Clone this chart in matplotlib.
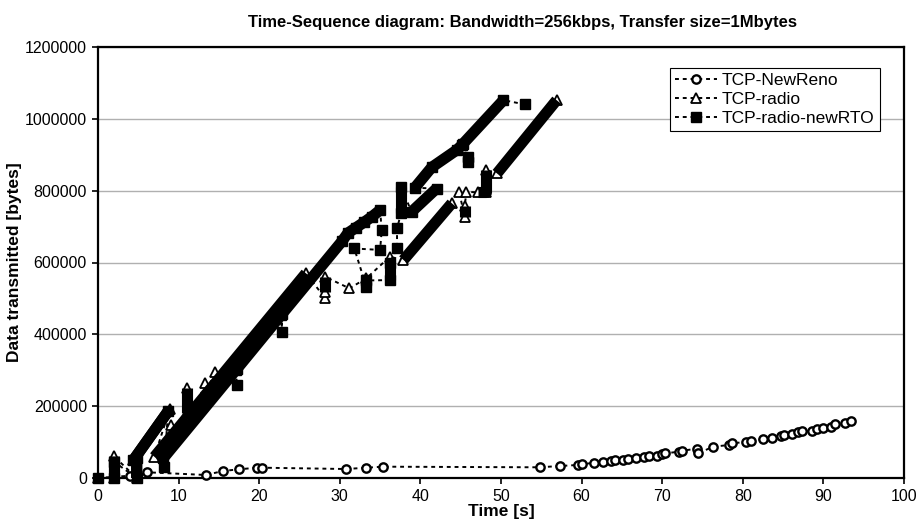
import matplotlib
matplotlib.use("Agg")
import matplotlib.pyplot as plt

plt.rcParams['font.family'] = ['Liberation Sans', 'DejaVu Sans']

#%% Data (time in s, bytes)
newreno_t = [0, 4.0, 6.1, 13.4, 15.5, 17.5, 19.7, 20.3, 30.8, 33.3, 35.4, 54.8, 57.3, 59.5,
             60.0, 61.6, 62.6, 63.6, 64.2, 65.1, 65.8, 66.8, 67.7, 68.4, 69.3, 70.0, 70.4,
             72.1, 72.5, 74.3, 74.5, 76.3, 78.3, 78.6, 80.4, 81.0, 82.5, 83.6, 84.8, 85.1,
             86.1, 86.8, 87.4, 88.6, 89.2, 90.0, 91.0, 91.4, 92.7, 93.4]
newreno_b = [0, 6400, 15900, 8400, 19500, 24200, 28700, 28700, 25000, 28700, 31500, 29800,
             33400, 36200, 38100, 42600, 45400, 47300, 49300, 50100, 52900, 55700, 58500,
             61300, 62100, 66000, 68800, 73200, 76000, 81600, 68800, 87100, 91900, 96600,
             100200, 103800, 107700, 112200, 116900, 119700, 122500, 127200, 130000, 130800,
             137300, 138400, 142800, 150300, 152300, 157800]

radio_t = [0, 2.0, 2.0, 4.8, 4.8, 4.4, 8.9, 7.0, 9.1, 9.1, 9.0, 10.95, 11.0, 11.0, 10.9,
           13.3, 13.3, 13.2, 14.5, 14.5, 14.4, 25.8, 28.2, 28.2, 28.2, 31.2, 33.3, 36.2,
           37.9, 43.9, 44.8, 45.5, 45.5, 45.7, 47.2, 48.2, 48.2, 49.5, 56.9]
radio_b = [0, 0, 60000, 0, 55000, 50000, 192000, 59000, 116000, 147000, 113000, 166000,
           180000, 250000, 165000, 230000, 264000, 228000, 263000, 296000, 260000, 570000,
           500000, 519000, 560000, 528000, 556000, 616000, 607000, 765000, 797000, 727000,
           757000, 797000, 795000, 795000, 857000, 848000, 1052000]
# index ranges where packets are so dense they merge into a solid band
radio_runs = [(1, 2), (3, 6), (7, 8), (10, 11), (12, 13), (14, 15), (17, 18), (20, 21),
              (23, 24), (28, 29), (31, 32), (34, 36), (37, 38)]

rto_t = [0, 2.0, 2.0, 4.8, 4.8, 4.4, 8.7, 8.2, 8.1, 17.2, 17.2, 17.1, 22.8, 22.8, 22.7,
         30.3, 31.0, 32.0, 33.0, 34.0, 35.0, 35.2, 35.0, 31.8, 33.3, 33.3, 36.2, 36.2,
         37.1, 37.1, 37.6, 37.6, 38.9, 42.0, 39.3, 41.4, 44.5, 45.3, 45.9, 45.9, 45.1,
         50.3, 53.0]
rto_b = [0, 0, 45000, 0, 55000, 50000, 186000, 30000, 55000, 303000, 259000, 300000,
         456000, 407000, 453000, 660000, 682000, 697000, 712000, 728000, 746000, 690000,
         635000, 639000, 532000, 550000, 551000, 600000, 639000, 695000, 737000, 811000,
         741000, 806000, 808000, 865000, 913000, 930000, 880000, 895000, 926000, 1052000,
         1040000]
rto_runs = [(1, 2), (3, 6), (8, 9), (11, 12), (14, 20), (24, 25), (26, 27), (30, 31),
            (32, 33), (34, 37), (38, 39), (40, 41)]

x_ticks = [0, 10, 20, 30, 40, 50, 60, 70, 80, 90, 100]
y_ticks = [0, 200000, 400000, 600000, 800000, 1000000, 1200000]
y_tick_labels = ['0', '200000', '400000', '600000', '800000', '1000000', '1200000']

#%% Plot
fig = plt.figure(figsize=(9.24, 5.26), dpi=100)
ax = fig.add_axes([98/924, 48/526, 806/924, 431/526])

dash_kw = dict(color='black', linestyle='--', dashes=(2, 2), lw=1.4, clip_on=False)

ax.plot(newreno_t, newreno_b, marker='o', ms=6, mfc='white', mec='black', mew=1.7,
        label='TCP-NewReno', zorder=3, **dash_kw)

ax.plot(radio_t, radio_b, marker='^', ms=7.5, mfc='white', mec='black', mew=1.3,
        label='TCP-radio', zorder=4, **dash_kw)
for i, j in radio_runs:
    ax.plot(radio_t[i:j+1], radio_b[i:j+1], color='black', lw=8,
            solid_capstyle='butt', zorder=5, clip_on=False)

ax.plot(rto_t, rto_b, marker='s', ms=6.5, mfc='black', mec='black', mew=1,
        label='TCP-radio-newRTO', zorder=6, **dash_kw)
for i, j in rto_runs:
    ax.plot(rto_t[i:j+1], rto_b[i:j+1], color='black', lw=8,
            solid_capstyle='butt', zorder=7, clip_on=False)

ax.set_xlim(0, 100)
ax.set_ylim(0, 1200000)
ax.set_xticks(x_ticks)
ax.set_yticks(y_ticks)
ax.set_yticklabels(y_tick_labels)
ax.tick_params(direction='out', length=4, width=1.2, labelsize=11.5, pad=4)
ax.grid(axis='y', color='#b0b0b0', lw=1)
ax.set_axisbelow(True)
for s in ax.spines.values():
    s.set_linewidth(1.6)
    s.set_color('black')

ax.set_xlabel('Time [s]', fontsize=12.5, fontweight='bold', labelpad=0)
ax.set_ylabel('Data transmitted [bytes]', fontsize=12.5, fontweight='bold', labelpad=2)
fig.text(523/924, 1 - 22/526, 'Time-Sequence diagram: Bandwidth=256kbps, Transfer size=1Mbytes',
         ha='center', va='center', fontsize=12, fontweight='bold')

leg = ax.legend(loc='upper right', bbox_to_anchor=(0.970, 0.951), borderaxespad=0,
                fontsize=12.5, handlelength=2.4, labelspacing=0.2, handletextpad=0.3,
                borderpad=0.3, fancybox=False, framealpha=1, edgecolor='black')
leg.get_frame().set_linewidth(0.8)

fig.savefig('out.png', dpi=100)
